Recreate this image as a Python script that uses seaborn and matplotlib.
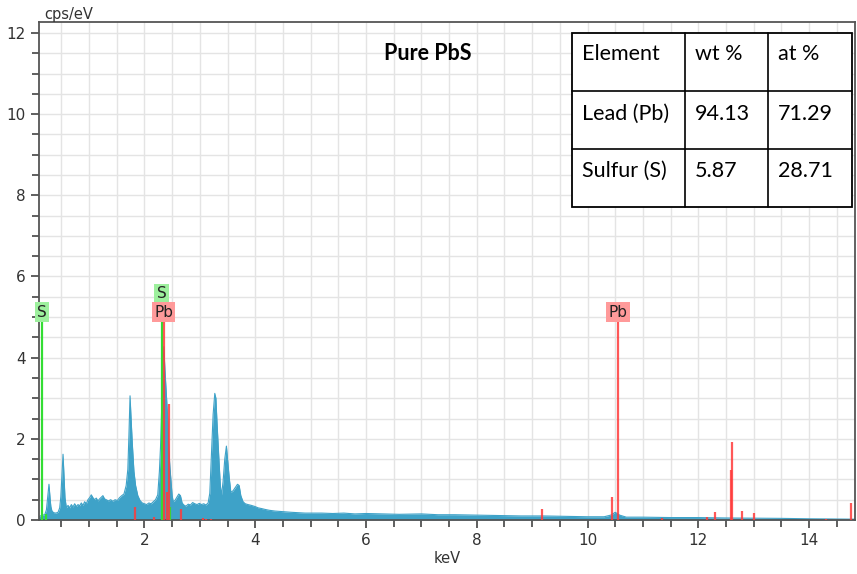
import matplotlib
matplotlib.use("Agg")
import matplotlib.pyplot as plt
from matplotlib.ticker import MultipleLocator
import seaborn as sns
import pandas as pd

# ---- data ----
energy_kev = [0.07, 0.08, 0.12, 0.16, 0.20, 0.23, 0.255, 0.276, 0.295, 0.31, 0.33, 0.36, 0.40, 0.44,
              0.47, 0.49, 0.51, 0.53, 0.55, 0.565, 0.59, 0.62, 0.65, 0.68, 0.71, 0.74, 0.77, 0.80,
              0.83, 0.86, 0.89, 0.92, 0.95, 0.98, 1.01, 1.04, 1.07, 1.10, 1.13, 1.16, 1.19, 1.22,
              1.25, 1.28, 1.31, 1.35, 1.39, 1.43, 1.47, 1.51, 1.55, 1.59, 1.63, 1.67, 1.70, 1.72,
              1.74, 1.755, 1.78, 1.81, 1.84, 1.88, 1.92, 1.96, 2.00, 2.04, 2.08, 2.12, 2.16, 2.20,
              2.24, 2.27, 2.29, 2.31, 2.33, 2.35, 2.37, 2.40, 2.42, 2.44, 2.46, 2.48, 2.50, 2.52,
              2.55, 2.58, 2.62, 2.65, 2.68, 2.71, 2.75, 2.79, 2.83, 2.87, 2.91, 2.95, 2.99, 3.03,
              3.07, 3.11, 3.15, 3.18, 3.21, 3.24, 3.27, 3.29, 3.31, 3.34, 3.37, 3.39, 3.42, 3.45,
              3.48, 3.50, 3.53, 3.56, 3.60, 3.64, 3.68, 3.71, 3.74, 3.78, 3.82, 3.87, 3.93, 4.00,
              4.05, 4.12, 4.18, 4.25, 4.36, 4.45, 4.54, 4.65, 4.78, 4.90, 5.00, 5.20, 5.40, 5.60,
              5.80, 6.00, 6.30, 6.60, 7.00, 7.30, 7.60, 8.00, 8.40, 8.80, 9.20, 9.60, 10.00, 10.30,
              10.42, 10.50, 10.58, 10.70, 11.00, 11.50, 12.00, 12.50, 13.00, 13.50, 14.00, 14.50, 14.85]
counts = [0.0, 0.04, 0.10, 0.12, 0.13, 0.25, 0.60, 0.88, 0.55, 0.33, 0.22, 0.18, 0.17, 0.19,
          0.30, 0.57, 1.10, 1.62, 1.00, 0.55, 0.30, 0.36, 0.30, 0.38, 0.32, 0.40, 0.33, 0.38,
          0.35, 0.42, 0.36, 0.45, 0.40, 0.50, 0.55, 0.62, 0.55, 0.50, 0.54, 0.47, 0.52, 0.56,
          0.60, 0.52, 0.50, 0.47, 0.50, 0.46, 0.50, 0.48, 0.55, 0.60, 0.64, 0.85, 1.25, 2.10,
          3.06, 2.60, 1.90, 1.20, 0.85, 0.60, 0.48, 0.42, 0.40, 0.38, 0.42, 0.40, 0.45, 0.50,
          0.62, 1.20, 1.80, 2.70, 3.60, 4.27, 3.70, 3.00, 2.50, 1.75, 1.30, 0.95, 0.60, 0.45,
          0.48, 0.55, 0.64, 0.60, 0.42, 0.37, 0.34, 0.39, 0.37, 0.43, 0.40, 0.38, 0.41, 0.38,
          0.40, 0.37, 0.42, 0.66, 1.60, 2.60, 3.12, 3.00, 2.40, 1.60, 0.85, 0.60, 0.95, 1.50,
          1.82, 1.50, 1.05, 0.68, 0.72, 0.80, 0.88, 0.85, 0.60, 0.45, 0.40, 0.38, 0.36, 0.33,
          0.30, 0.28, 0.26, 0.24, 0.22, 0.21, 0.20, 0.19, 0.18, 0.17, 0.17, 0.17, 0.16, 0.17,
          0.15, 0.16, 0.15, 0.14, 0.15, 0.13, 0.13, 0.12, 0.11, 0.10, 0.10, 0.09, 0.08, 0.08,
          0.12, 0.19, 0.12, 0.07, 0.07, 0.06, 0.06, 0.05, 0.045, 0.04, 0.03, 0.025, 0.02]

pb_line_kev = [1.83, 2.18, 2.345, 2.40, 2.44, 2.66, 3.05, 3.12, 3.20, 9.18, 10.44, 10.55,
               11.34, 12.15, 12.31, 12.60, 12.61, 12.79, 13.01, 14.30, 14.76]
pb_line_height = [0.31, 0.08, 4.93, 0.70, 2.87, 0.26, 0.05, 0.03, 0.03, 0.27, 0.56, 4.93,
                  0.04, 0.07, 0.19, 1.22, 1.93, 0.23, 0.17, 0.03, 0.41]
s_line_kev = [0.155, 0.22, 2.31, 2.47]
s_line_height = [4.93, 0.16, 4.93, 0.33]

s_labels_kev = [0.155, 2.31]
s_labels_y = [5.12, 5.57]
pb_labels_kev = [2.345, 10.55]
pb_labels_y = [5.12, 5.12]

table_header = ["Element", "wt %", "at %"]
table_elements = ["Lead (Pb)", "Sulfur (S)"]
table_wt = ["94.13", "5.87"]
table_at = ["71.29", "28.71"]

title_text = "Pure PbS"

# ---- figure ----
sns.set_theme(style="white")
plt.rcParams['font.family'] = ['DejaVu Sans']

W, H = 857, 574
fig = plt.figure(figsize=(W / 100, H / 100), dpi=100)
ax_l, ax_r, ax_t, ax_b = 39, 855, 22, 520
ax = fig.add_axes([ax_l / W, (H - ax_b) / H, (ax_r - ax_l) / W, (ax_b - ax_t) / H])

blue = "#3ea2c8"
df = pd.DataFrame({"keV": energy_kev, "cps": counts})
ax.fill_between(df["keV"], 0, df["cps"], color=blue, linewidth=0, zorder=2)
sns.lineplot(data=df, x="keV", y="cps", ax=ax, color=blue, linewidth=0.8, zorder=2,
             estimator=None, sort=False)

ax.vlines(s_line_kev, 0, s_line_height, colors="#33dd33", linewidth=1.6, zorder=3)
ax.vlines(pb_line_kev, 0, pb_line_height, colors="#ff3b3b", linewidth=1.6, alpha=0.85, zorder=4)

for xk, yv in zip(s_labels_kev, s_labels_y):
    ax.text(xk, yv, "S", ha="center", va="center", fontsize=11, color="#222222", zorder=6,
            bbox=dict(boxstyle="square,pad=0.15", fc="#9df09d", ec="none"))
for xk, yv in zip(pb_labels_kev, pb_labels_y):
    ax.text(xk, yv, "Pb", ha="center", va="center", fontsize=11, color="#222222", zorder=6,
            bbox=dict(boxstyle="square,pad=0.15", fc="#ff9a9a", ec="none"))

ax.set_xlim(0.096, 14.83)
ax.set_ylim(0, 12.27)
ax.xaxis.set_major_locator(MultipleLocator(2))
ax.xaxis.set_minor_locator(MultipleLocator(0.5))
ax.yaxis.set_major_locator(MultipleLocator(2))
ax.yaxis.set_minor_locator(MultipleLocator(0.5))
ax.grid(which="both", color="#e4e4e4", linewidth=1.0, zorder=0)
ax.set_axisbelow(True)
ax.tick_params(which="both", direction="out", length=5, width=1.2, color="#444444",
               labelsize=11, labelcolor="#333333", bottom=True, left=True)
ax.tick_params(which="major", length=6)
for s in ax.spines.values():
    s.set_color("#555555")
    s.set_linewidth(1.3)
ax.set_xlabel("keV", fontsize=10.5, color="#333333", labelpad=2)
ax.set_ylabel("")
fig.text(44 / W, 1 - 14 / H, "cps/eV", fontsize=10.5, color="#333333", ha="left", va="center")

# ---- title and table (pixel layout converted to axes fraction) ----
def fx(px):
    return (px - ax_l) / (ax_r - ax_l)

def fy(py):
    return (ax_b - py) / (ax_b - ax_t)

tfont = ["Lato", "DejaVu Sans"]
ax.text(fx(428), fy(53), title_text, transform=ax.transAxes, ha="center", va="center",
        fontsize=15.5, fontweight="bold", family=tfont, color="black", zorder=7)

tl, tr, tt, tb = 572, 852, 33, 207
col_x = [572, 685, 768, 852]
row_y = [33, 91, 149, 207]
ax.add_patch(plt.Rectangle((fx(tl), fy(tb)), fx(tr) - fx(tl), fy(tt) - fy(tb),
                           transform=ax.transAxes, fc="white", ec="black", lw=1.3, zorder=6))
for cx in col_x[1:-1]:
    ax.plot([fx(cx), fx(cx)], [fy(tt), fy(tb)], transform=ax.transAxes, color="black", lw=1.2, zorder=7)
for ry in row_y[1:-1]:
    ax.plot([fx(tl), fx(tr)], [fy(ry), fy(ry)], transform=ax.transAxes, color="black", lw=1.2, zorder=7)

rows = [table_header] + [[e, w, a] for e, w, a in zip(table_elements, table_wt, table_at)]
text_y = [54, 114, 171]
for r, row in enumerate(rows):
    for c, val in enumerate(row):
        ax.text(fx(col_x[c] + 10), fy(text_y[r]), val, transform=ax.transAxes, ha="left",
                va="center", fontsize=15.5, family=tfont, color="black", zorder=8)

fig.savefig("out.png", dpi=100)
